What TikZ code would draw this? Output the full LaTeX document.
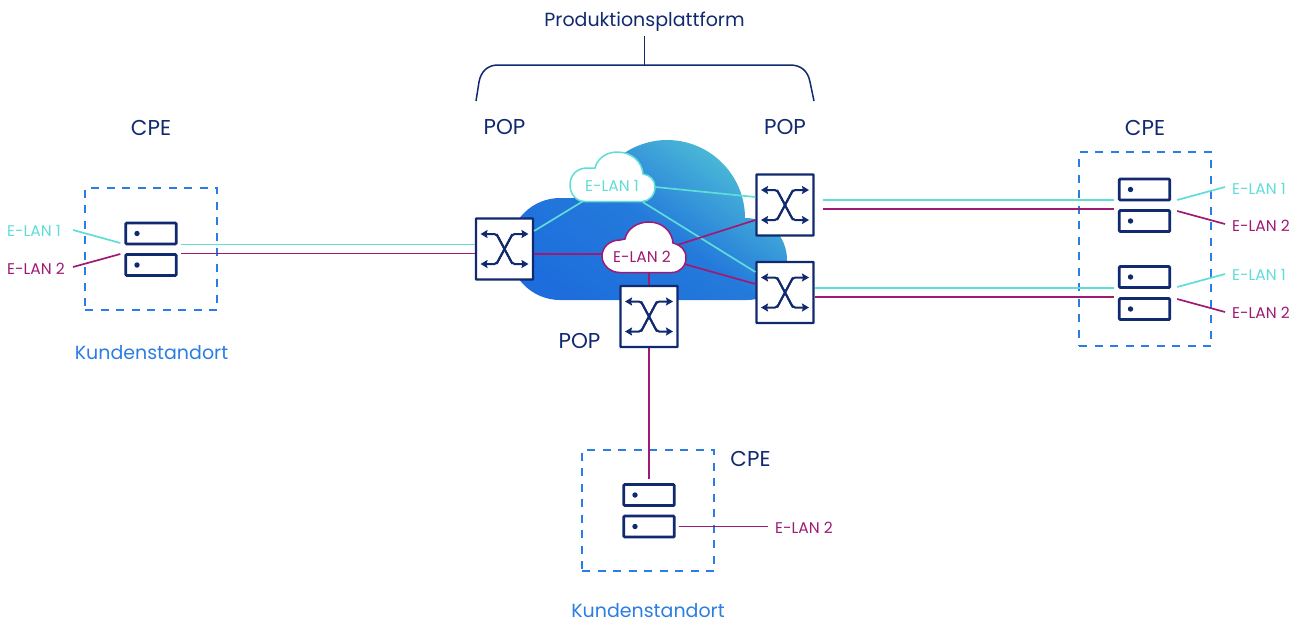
\documentclass[tikz,border=0pt]{standalone}
\usepackage{fontspec}
\setmainfont{Poppins}
\usetikzlibrary{arrows.meta,calc}
\definecolor{navy}{HTML}{11296F}
\definecolor{cyanl}{HTML}{5FDDD8}
\definecolor{magl}{HTML}{9E1A75}
\definecolor{bluet}{HTML}{2B7DE3}
\definecolor{cloudA}{HTML}{4FC0D6}
\definecolor{cloudB}{HTML}{1D6EDC}
\tikzset{
  x=1pt,y=-1pt,
  swbox/.style={draw=navy,fill=white,line width=2.2pt,minimum width=57pt,minimum height=61pt,inner sep=0pt,rounded corners=0.5pt},
  srv/.style={draw=navy,fill=white,line width=2.8pt,minimum width=50.5pt,minimum height=21pt,inner sep=0pt,rounded corners=1pt},
  dashbox/.style={draw=bluet,line width=1.7pt,dash pattern=on 8pt off 7.5pt,inner sep=0pt},
  swline/.style={draw=navy,line width=2pt,rounded corners=2pt,-{Stealth[length=7pt,width=8pt,inset=1pt]}},
  cy/.style={draw=cyanl,line width=1.7pt},
  mg/.style={draw=magl,line width=1.7pt},
  title/.style={text=navy,font=\fontsize{19}{22}\selectfont,inner sep=0pt},
  caps/.style={text=navy,font=\fontsize{21.5}{24}\selectfont,inner sep=0pt},
  site/.style={text=bluet,font=\fontsize{19}{22}\selectfont,inner sep=0pt},
  lan/.style={font=\fontsize{15.5}{18}\selectfont,inner sep=0pt},
  cloudlab/.style={font=\fontsize{15.5}{18}\selectfont,inner sep=0pt,minimum width=72pt,minimum height=26pt},
}
\newcommand{\swicon}[1]{%
  \begin{scope}[shift={(#1)}]
    \draw[swline] (-8,15) -- (8,-15) -- (24,-15);
    \draw[swline] (8,-15) -- (-8,15) -- (-24,15);
    \draw[swline] (8,15) -- (-8,-15) -- (-24,-15);
    \draw[swline] (-8,-15) -- (8,15) -- (24,15);
  \end{scope}}
\newcommand{\srvdot}[1]{\fill[navy] ($(#1.center)+(-14,0)$) circle (2.7pt);}
\begin{document}
\begin{tikzpicture}
\useasboundingbox (0,0) rectangle (1305,622);
% big cloud
\shade[top color=cloudA,bottom color=cloudB,middle color=cloudB!85!cloudA,shading angle=-35]
  (560,300) .. controls (532,300) and (509,277) .. (509,249)
  .. controls (509,221) and (532,198) .. (560,198) -- (590,198)
  .. controls (600,165) and (632,140) .. (667,140)
  .. controls (710,140) and (745,175) .. (745,218)
  .. controls (770,218) and (787,237) .. (787,260)
  .. controls (787,283) and (770,300) .. (747,300) -- cycle;
% dashed boxes
\node[dashbox,minimum width=132pt,minimum height=122pt] (dl) at (151,249) {};
\node[dashbox,minimum width=132pt,minimum height=194pt] (dr) at (1145,249) {};
\node[dashbox,minimum width=132pt,minimum height=121pt] (db) at (648,510.5) {};
% small clouds
\draw[draw=cyanl,fill=white,line width=1.5pt]
  (585,201.5) .. controls (576,201.5) and (570,194) .. (570,185)
  .. controls (570,175) and (577,168) .. (587,168) -- (595,168)
  .. controls (597,159) and (606,152) .. (617,152)
  .. controls (631,152) and (642,161) .. (643,174)
  .. controls (650,175) and (655,180) .. (655,187)
  .. controls (655,195) and (649,201.5) .. (642,201.5) -- cycle;
\node[cloudlab,text=cyanl] (e1) at (612,185.5) {E-LAN 1};
\draw[draw=magl,fill=white,line width=1.5pt]
  (620,272.5) .. controls (610,272.5) and (602,265) .. (602,256)
  .. controls (602,247) and (610,240) .. (620,240) -- (625,239)
  .. controls (627,229) and (637,222) .. (649,222)
  .. controls (662,222) and (672,231) .. (673,243)
  .. controls (681,245) and (686,250) .. (686,258)
  .. controls (686,266) and (680,272.5) .. (672,272.5) -- cycle;
\node[cloudlab,text=magl] (e2) at (642,256.5) {E-LAN 2};
% switches
\node[swbox] (s1) at (504.5,249) {};
\node[swbox] (s2) at (785,205) {};
\node[swbox] (s3) at (785,292.5) {};
\node[swbox] (s4) at (649,316.5) {};
% servers
\node[srv] (al) at (151,233.5) {};
\node[srv] (bl) at (151,265) {};
\node[srv] (ar1) at (1144.5,189.5) {};
\node[srv] (br1) at (1144.5,221) {};
\node[srv] (ar2) at (1144.5,277) {};
\node[srv] (br2) at (1144.5,309) {};
\node[srv] (ab) at (649,495) {};
\node[srv] (bb) at (649,526.5) {};
\srvdot{al}\srvdot{bl}\srvdot{ar1}\srvdot{br1}\srvdot{ar2}\srvdot{br2}\srvdot{ab}\srvdot{bb}
% free ends
\coordinate (fl1) at (73,230);
\coordinate (fl2) at (73,267);
\coordinate (fr1) at (1225,187);
\coordinate (fr2) at (1225,224);
\coordinate (fr3) at (1225,274);
\coordinate (fr4) at (1225,312);
\coordinate (fb) at (768,526.5);
% labels
\node[lan,text=cyanl,anchor=west] (tl1) at (7,230.5) {E-LAN 1};
\node[lan,text=magl,anchor=west] (tl2) at (7,268.5) {E-LAN 2};
\node[lan,text=cyanl,anchor=west] (tr1) at (1232,188.5) {E-LAN 1};
\node[lan,text=magl,anchor=west] (tr2) at (1232,226) {E-LAN 2};
\node[lan,text=cyanl,anchor=west] (tr3) at (1232,275) {E-LAN 1};
\node[lan,text=magl,anchor=west] (tr4) at (1232,313) {E-LAN 2};
\node[lan,text=magl,anchor=west] (tb) at (775,527.5) {E-LAN 2};
\node[title] (prod) at (644.5,21.5) {Produktionsplattform};
\node[caps] (pop1) at (504.5,127) {POP};
\node[caps] (pop2) at (785,127) {POP};
\node[caps] (pop4) at (579.5,340.5) {POP};
\node[caps] (cl) at (151,128) {CPE};
\node[caps] (cr) at (1145,128) {CPE};
\node[caps] (cb) at (750.5,459) {CPE};
\node[site] (kl) at (151.5,352.5) {Kundenstandort};
\node[site] (kb) at (648,610.5) {Kundenstandort};
% bracket
\coordinate (brt) at (644.5,65);
\draw[navy,line width=1.5pt] (476,101) -- (479,82) .. controls (481,71) and (488,65) .. (498,65)
  -- (790,65) .. controls (801,65) and (808,71) .. (810,82) -- (814,101);
\draw[navy,line width=1.5pt] ([yshift=-4.5pt]prod.south) -- (brt);
% cyan connectors
\draw[cy] ([xshift=3pt,yshift=-11pt]al.east) -- ([yshift=4.5pt]s1.west);
\draw[cy] ([xshift=-29pt,yshift=-2.5pt]e1.south) -- ([yshift=18pt]s1.east);
\draw[cy] ([xshift=7pt,yshift=-1.5pt]e1.east) -- ([yshift=8pt]s2.west);
\draw[cy] ([xshift=31pt,yshift=-3.5pt]e1.south) -- ([yshift=20.5pt]s3.west);
\draw[cy] ([xshift=8pt,yshift=5pt]s2.east) -- ([xshift=-4pt,yshift=-10.5pt]ar1.west);
\draw[cy] ([yshift=4.5pt]s3.east) -- ([xshift=-4pt,yshift=-11pt]ar2.west);
\draw[cy] (fl1) -- ([xshift=-4pt,yshift=-9.5pt]al.west);
\draw[cy] ([xshift=6pt,yshift=-10.5pt]ar1.east) -- (fr1);
\draw[cy] ([xshift=6pt,yshift=-10pt]ar2.east) -- (fr3);
% magenta connectors
\draw[mg] ([xshift=3pt,yshift=-20pt]al.east) -- ([yshift=-4.5pt]s1.west);
\draw[mg] ([yshift=-5pt]s1.east) -- ([xshift=-4pt,yshift=2.5pt]e2.west);
\draw[mg] ([xshift=-1pt,yshift=11.5pt]e2.east) -- ([yshift=-15pt]s2.west);
\draw[mg] ([xshift=6pt,yshift=-7.5pt]e2.east) -- ([yshift=8.5pt]s3.west);
\draw[mg] ([xshift=7pt,yshift=-3.5pt]e2.south) -- (s4.north);
\draw[mg] ([xshift=8pt,yshift=-4pt]s2.east) -- ([xshift=-4pt,yshift=-19.5pt]ar1.west);
\draw[mg] ([yshift=-4.5pt]s3.east) -- ([xshift=-4pt,yshift=-20pt]ar2.west);
\draw[mg] (fl2) -- ([xshift=-4pt,yshift=11pt]bl.west);
\draw[mg] ([xshift=6pt,yshift=10pt]br1.east) -- (fr2);
\draw[mg] ([xshift=6pt,yshift=10pt]br2.east) -- (fr4);
\draw[mg] (s4.south) -- ([yshift=4pt]ab.north);
\draw[mg] ([xshift=3pt]bb.east) -- (fb);
% switch icons
\swicon{s1.center}\swicon{s2.center}\swicon{s3.center}\swicon{s4.center}
\end{tikzpicture}
\end{document}
